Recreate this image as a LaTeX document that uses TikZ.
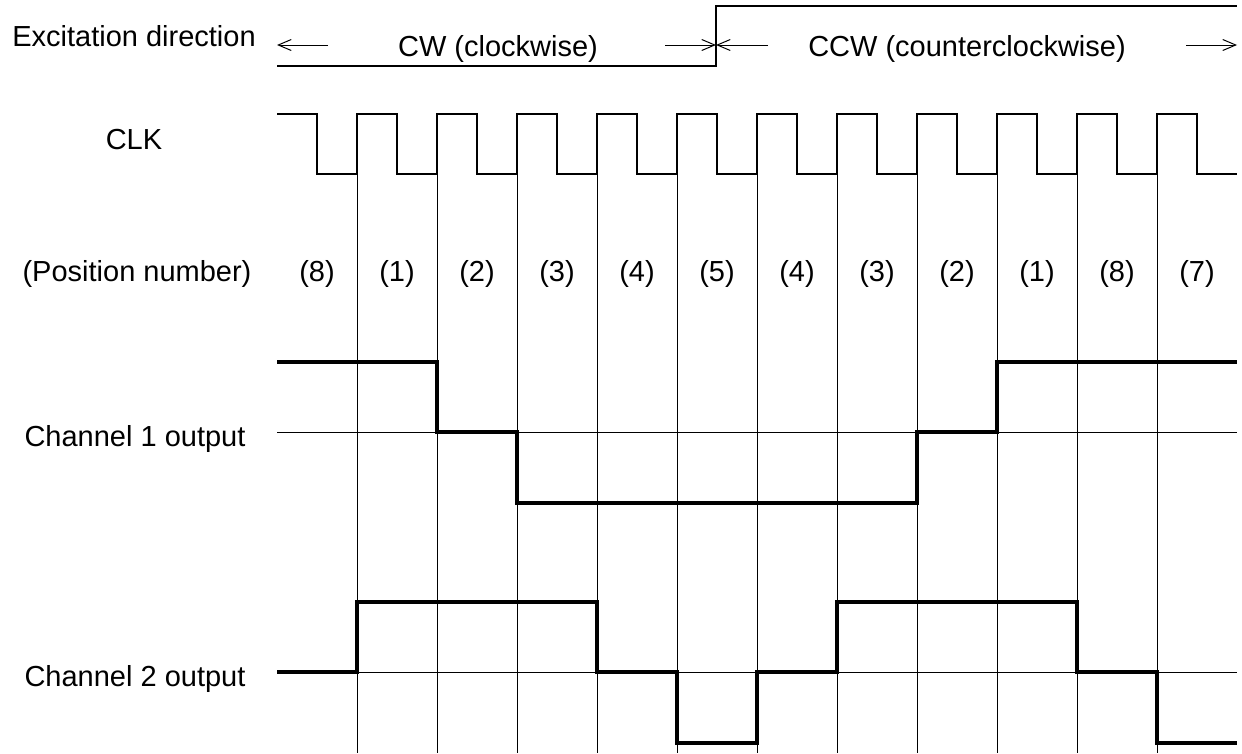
\documentclass[tikz,border=0pt]{standalone}
\usepackage{fontspec}
\setmainfont{Liberation Sans}
\usepackage{tikz}
\usetikzlibrary{
  positioning,
  arrows.meta
}
\tikzset{
  % Signal names on the left
  signame/.style={
    font=\fontsize{29}{34}\selectfont,
    inner sep=0pt,
    anchor=base
  },
  % Text in the waveform area
  wtext/.style={
    font=\fontsize{29}{34}\selectfont,
    inner sep=0pt,
    anchor=base
  },
  % Clock trace
  clk/.style={
    draw=black,
    line width=2.6pt
  },
  % Output trace
  wave/.style={
    draw=black,
    line width=3.6pt
  },
  % Grid and reference lines
  grid/.style={
    draw=black,
    line width=1pt
  },
  % Direction arrow
  dirarrow/.style={
    draw=black,
    line width=1pt,
    -{Straight Barb[length=13pt,width=11pt]}
  }
}

\begin{document}
\begin{tikzpicture}[x=1pt,y=-1pt]
  \useasboundingbox (0,0) rectangle (1242,753);

  % Signal names
  \node[signame] (lblExc) at (134,46)  {Excitation direction};
  \node[signame] (lblClk) at (134,149) {CLK};
  \node[signame] (lblPos) at (137,281) {(Position number)};
  \node[signame] (lblCh1) at (135,446) {Channel 1 output};
  \node[signame] (lblCh2) at (135,686) {Channel 2 output};

  % Direction of excitation
  \draw[clk] (277,66) -- (716,66) -- (716,6) -- (1237,6);
  \node[wtext] (cw)  at (498,56) {CW (clockwise)};
  \node[wtext] (ccw) at (967,56) {CCW (counterclockwise)};
  \coordinate (cwL)  at (328,45);
  \coordinate (cwE)  at (277,45);
  \coordinate (cwR)  at (665,45);
  \coordinate (turn) at (716,45);
  \coordinate (ccwL) at (768,45);
  \coordinate (ccwR) at (1186,45);
  \coordinate (ccwE) at (1237,45);
  \draw[dirarrow] (cwL) -- (cwE);
  \draw[dirarrow] (cwR) -- (turn);
  \draw[dirarrow] (ccwL) -- (turn);
  \draw[dirarrow] (ccwR) -- (ccwE);

  % Grid lines at every rising clock edge
  \foreach \i in {0,...,10}
    \draw[grid] ({357+80*\i},174) -- ({357+80*\i},753);
  \draw[grid] (277,432) -- (1237,432);
  \draw[grid] (277,672) -- (1237,672);

  % Clock
  \draw[clk] (277,114)
    foreach \i in {0,...,10} { -| ({317+80*\i},174) -| ({357+80*\i},114) }
    -| (1197,174) -- (1237,174);

  % Position numbers
  \foreach \p [count=\k from 0] in {8,1,2,3,4,5,4,3,2,1,8,7}
    \node[wtext] (pos\k) at ({317+80*\k},281) {(\p)};

  % Channel 1 output
  \draw[wave] (277,362) -- (437,362) -- (437,432) -- (517,432)
    -- (517,503) -- (917,503) -- (917,432) -- (997,432)
    -- (997,362) -- (1237,362);

  % Channel 2 output
  \draw[wave] (277,672) -- (357,672) -- (357,602) -- (597,602)
    -- (597,672) -- (677,672) -- (677,743) -- (757,743)
    -- (757,672) -- (837,672) -- (837,602) -- (1077,602)
    -- (1077,672) -- (1157,672) -- (1157,743) -- (1237,743);
\end{tikzpicture}
\end{document}
